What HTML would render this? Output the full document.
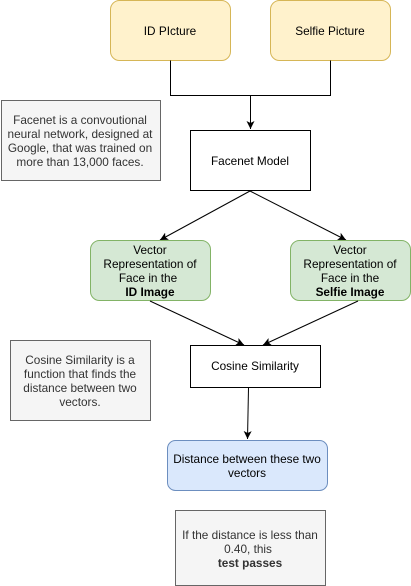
<!DOCTYPE html>
<html><head><meta charset="utf-8"><style>
body{margin:0;background:#fff;width:411px;height:586px;overflow:hidden}
svg{display:block}
text{font-family:"Liberation Sans",sans-serif;font-size:11.8px;text-anchor:middle}
</style></head><body>
<svg width="411" height="586" viewBox="0 0 411 586">
<defs><marker id="a" markerWidth="10" markerHeight="10" refX="8" refY="4.5" orient="auto" markerUnits="userSpaceOnUse"><path d="M0,0.5 L8,4.5 L0,8.5 L2,4.5 Z" fill="#000"/></marker></defs>
<rect x="110.5" y="0.5" width="120" height="60" rx="9" fill="#fff2cc" stroke="#d6b656"/>
<rect x="270.5" y="0.5" width="120" height="60" rx="9" fill="#fff2cc" stroke="#d6b656"/>
<text x="170" y="35" fill="#000">ID PIcture</text>
<text x="330" y="35" fill="#000">Selfie Picture</text>
<path d="M170.5 60.5V95.5H330.5V60.5M250.5 95.5V129" fill="none" stroke="#000" marker-end="url(#a)"/>
<rect x="1.5" y="100.5" width="159" height="80" fill="#f5f5f5" stroke="#666"/>
<text fill="#333"><tspan x="80" y="124">Facenet is a convoutional</tspan><tspan x="80" y="138">neural network, designed at</tspan><tspan x="80" y="152">Google, that was trained on</tspan><tspan x="80" y="166">more than 13,000 faces.</tspan></text>
<rect x="190.5" y="130.5" width="120" height="60" fill="#fff" stroke="#000"/>
<text x="250" y="165">Facenet Model</text>
<line x1="250" y1="191" x2="160" y2="240" stroke="#000" marker-end="url(#a)"/>
<line x1="250" y1="191" x2="346" y2="240" stroke="#000" marker-end="url(#a)"/>
<rect x="90.5" y="240.5" width="120" height="60" rx="9" fill="#d5e8d4" stroke="#82b366"/>
<rect x="290.5" y="240.5" width="120" height="60" rx="9" fill="#d5e8d4" stroke="#82b366"/>
<text><tspan x="150" y="254">Vector</tspan><tspan x="150" y="268">Representation of</tspan><tspan x="148" y="282">Face in the</tspan><tspan x="150" y="296" font-weight="bold">ID Image</tspan></text>
<text><tspan x="350" y="254">Vector</tspan><tspan x="350" y="268">Representation of</tspan><tspan x="350" y="282">Face in the</tspan><tspan x="350" y="296" font-weight="bold">Selfie Image</tspan></text>
<line x1="150" y1="301" x2="244" y2="345" stroke="#000" marker-end="url(#a)"/>
<line x1="358" y1="301" x2="263" y2="345" stroke="#000" marker-end="url(#a)"/>
<rect x="10.5" y="340.5" width="140" height="80" fill="#f5f5f5" stroke="#666"/>
<text fill="#333"><tspan x="80" y="364">Cosine Similarity is a</tspan><tspan x="80" y="378">function that finds the</tspan><tspan x="80" y="392">distance between two</tspan><tspan x="80" y="406">vectors.</tspan></text>
<rect x="190.5" y="345.5" width="130" height="42" fill="#fff" stroke="#000"/>
<text x="255" y="370">Cosine Similarity</text>
<line x1="248.5" y1="388" x2="247.5" y2="439" stroke="#000" marker-end="url(#a)"/>
<rect x="167.5" y="440.5" width="160" height="50" rx="8" fill="#dae8fc" stroke="#6c8ebf"/>
<text><tspan x="247" y="463">Distance between these two</tspan><tspan x="247" y="477">vectors</tspan></text>
<rect x="175.5" y="510.5" width="150" height="75" fill="#f5f5f5" stroke="#666"/>
<text fill="#333"><tspan x="250" y="539">If the distance is less than</tspan><tspan x="248" y="553">0.40, this</tspan><tspan x="250" y="567" font-weight="bold">test passes</tspan></text>
</svg>
</body></html>
